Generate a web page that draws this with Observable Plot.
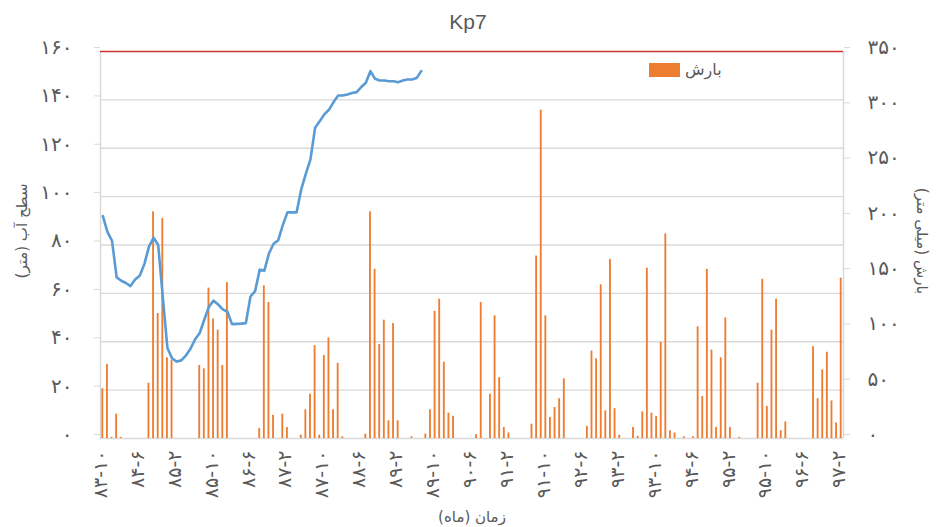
<!DOCTYPE html>
<html>
<head>
<meta charset="utf-8">
<script src="https://cdn.jsdelivr.net/npm/d3@7"></script>
<script src="https://cdn.jsdelivr.net/npm/@observablehq/plot@0.6"></script>
<style>
  body { margin: 0; background: #fff; }
  #wrap { position: relative; width: 937px; height: 527px; font-family: "DejaVu Sans", sans-serif; color: #595959; }
  .abs { position: absolute; white-space: nowrap; }
  .ctr { transform: translate(-50%, -50%); }
</style>
</head>
<body>
<div id="wrap">
  <div id="chart"></div>
  <div class="abs ctr" style="left:468px; top:22px; font-family:'Liberation Sans Narrow','Liberation Sans',sans-serif; font-size:21px;">Kp7</div>
  <div class="abs ctr" style="left:22px; top:231px; font-size:15px; transform:translate(-50%,-50%) rotate(-90deg);">سطح آب (متر)</div>
  <div class="abs ctr" style="left:922px; top:241px; font-size:15px; transform:translate(-50%,-50%) rotate(90deg);">بارش (میلی متر)</div>
  <div class="abs ctr" style="left:472px; top:517px; font-size:15px;">زمان (ماه)</div>
  <div class="abs" style="left:649px; top:63px; width:31px; height:14px; background:#ED7D31;"></div>
  <div class="abs" style="left:685px; top:60px; font-size:16px; line-height:20px;">بارش</div>
</div>
<script>
const fa = s => String(s).replace(/\d/g, d => "۰۱۲۳۴۵۶۷۸۹"[d]);

// Monthly categories 83-10 .. 97-2 (161 months)
const months = [];
for (let i = 0; i < 161; i++) {
  const y = 83 + Math.floor((9 + i) / 12);
  const m = ((9 + i) % 12) + 1;
  months.push(fa(y + "-" + m));
}

const xTickLabels = ["۸۳-۱۰","۸۴-۶","۸۵-۲","۸۵-۱۰","۸۶-۶","۸۷-۲","۸۷-۱۰","۸۸-۶","۸۹-۲","۸۹-۱۰","۹۰-۶","۹۱-۲","۹۱-۱۰","۹۲-۶","۹۳-۲","۹۳-۱۰","۹۴-۶","۹۵-۲","۹۵-۱۰","۹۶-۶","۹۷-۲"];
const leftTicks = [0, 20, 40, 60, 80, 100, 120, 140, 160];
const rightTicks = [0, 50, 100, 150, 200, 250, 300, 350];

// Water level (m), from 83-10 onward
const waterLevel = [92.0, 85.4, 81.7, 66.6, 65.2, 64.3, 63.0, 65.7, 67.3, 72.1, 79.3, 83.0, 80.0, 58.5, 37.4, 33.2, 31.8, 32.3, 34.3, 37.1, 41.0, 43.6, 49.2, 54.5, 57.0, 55.4, 53.4, 52.4, 47.3, 47.4, 47.5, 47.7, 58.7, 60.9, 69.8, 69.4, 76.5, 80.5, 81.9, 88.2, 93.5, 93.5, 93.5, 103.0, 109.5, 115.4, 128.5, 131.2, 134.0, 135.9, 139.1, 141.8, 141.8, 142.2, 142.8, 143.2, 145.3, 147.1, 151.9, 148.7, 148.0, 148.0, 147.7, 147.7, 147.3, 148.0, 148.4, 148.4, 149.0, 151.9];

// Monthly precipitation (mm), 83-10 .. 97-2
const precipitation = [
  45, 67, 1, 22, 1, 0, 0, 0, 0, 0,
  50, 205, 113, 199, 73, 71, 0, 0, 0, 0,
  0, 66, 63, 136, 108, 98, 66, 141, 0, 0,
  0, 0, 0, 0, 9, 138, 123, 21, 0, 22,
  10, 0, 0, 3, 26, 40, 84, 3, 75, 91,
  26, 68, 1.5, 0, 0, 0, 0, 4, 205, 153,
  85, 107, 16, 104, 16, 0, 0, 1.5, 0, 0,
  4, 26, 115, 126, 69, 23, 20, 0, 0, 0,
  0, 3.5, 123, 0, 40, 111, 55, 10, 5, 0,
  0, 0, 0, 13, 165, 297, 111, 19, 28, 36,
  54, 0, 0, 0, 0, 11, 79, 72, 139, 25,
  162, 27, 3, 0, 0, 10, 2, 24, 154, 23,
  20, 87, 185, 7, 5, 0, 1.5, 0, 1.5, 101,
  38, 153, 80, 10, 73, 109, 10, 0, 1, 0,
  0, 0, 50, 144, 29, 98, 126, 7, 15, 0,
  0, 0, 0, 0, 83, 36, 62, 78, 34, 14,
  145
];

const k = 160 / 350; // right axis mapped onto the left scale
const bars = precipitation.map((p, i) => ({ i, p }));
const levels = waterLevel.map((v, i) => ({ i, v }));
const xTicks = xTickLabels.map(l => months.indexOf(l));

const chart = Plot.plot({
  width: 937,
  height: 527,
  marginLeft: 100,
  marginRight: 94,
  marginTop: 51,
  marginBottom: 89,
  style: { fontFamily: "DejaVu Sans, sans-serif", color: "#595959", background: "transparent" },
  x: { domain: [-0.5, 160.5] },
  y: { domain: [0, 160] },
  marks: [
    Plot.gridY([20, 40, 60, 80, 100, 120, 140], { stroke: "#D9D9D9", strokeOpacity: 1, strokeWidth: 1.3 }),
    Plot.ruleX([-0.5, 160.5], { stroke: "#D9D9D9", strokeWidth: 1.5 }),
    Plot.ruleY([0], { stroke: "#D9D9D9", strokeWidth: 1.5 }),
    Plot.ruleY([160], { stroke: "#CC3333", strokeWidth: 1.3 }),
    Plot.rectY(bars, { x1: d => d.i - 0.2, x2: d => d.i + 0.2, y1: 0, y2: d => d.p * k, fill: "#ED7D31" }),
    Plot.line(levels, { x: "i", y: "v", stroke: "#5B9BD5", strokeWidth: 2.6, strokeLinejoin: "round", strokeLinecap: "round" }),
    Plot.axisY(leftTicks, { anchor: "left", tickFormat: fa, tickSize: 6, tickPadding: 22, fontSize: 20, dy: -4, label: null, stroke: "#D9D9D9" }),
    Plot.axisY(rightTicks.map(v => v * k), { anchor: "right", tickFormat: v => fa(Math.round(v / k)), tickSize: 6, tickPadding: 18, fontSize: 20, dy: -4, label: null, stroke: "#D9D9D9" }),
    Plot.axisX(xTicks, { anchor: "bottom", tickFormat: i => months[i], tickRotate: -90, tickSize: 0, tickPadding: 12, fontSize: 19, dx: -2, label: null })
  ]
});
document.getElementById("chart").appendChild(chart);
</script>
</body>
</html>
